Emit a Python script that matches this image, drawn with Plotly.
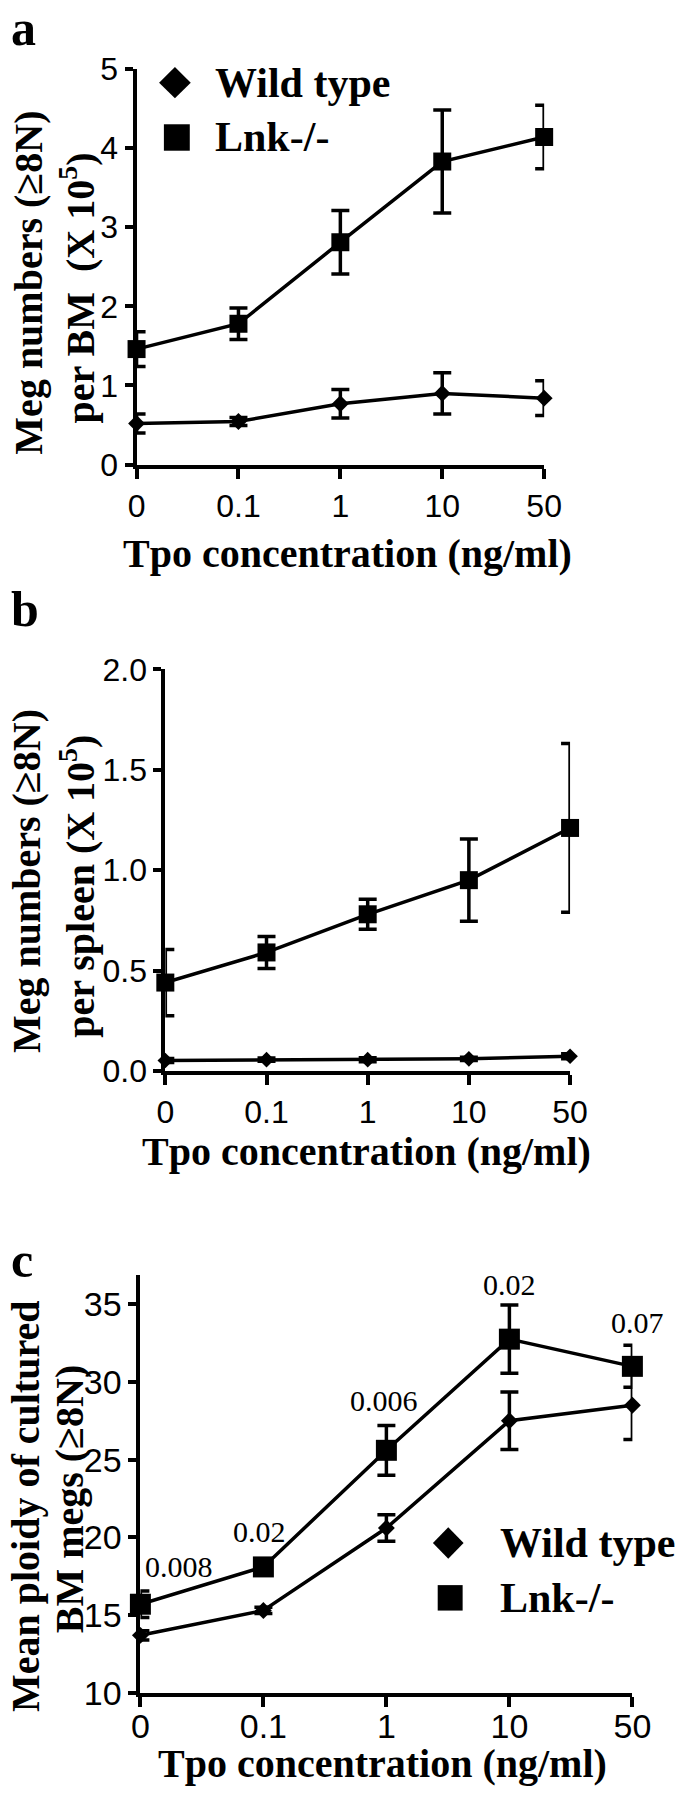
import plotly.graph_objects as go

# ---------------- data ----------------
categories = ["0", "0.1", "1", "10", "50"]

a_wt = [0.52, 0.545, 0.77, 0.90, 0.84]
a_wt_err = [0.12, 0.05, 0.18, 0.26, 0.22]
a_lnk = [1.46, 1.78, 2.81, 3.83, 4.14]
a_lnk_err = [0.22, 0.20, 0.40, 0.65, 0.40]

b_wt = [0.052, 0.056, 0.056, 0.060, 0.073]
b_wt_err = [0.010, 0.008, 0.010, 0.008, 0.012]
b_lnk = [0.44, 0.59, 0.78, 0.95, 1.21]
b_lnk_err = [0.165, 0.08, 0.075, 0.205, 0.42]

c_wt = [13.7, 15.3, 20.6, 27.5, 28.5]
c_wt_err = [0.3, 0.2, 0.85, 1.85, 2.2]
c_lnk = [15.7, 18.1, 25.6, 32.75, 31.0]
c_lnk_err = [0.85, 0.3, 1.6, 2.2, 1.35]

p_values = ["0.008", "0.02", "0.006", "0.02", "0.07"]

# ---------------- layout helpers ----------------
W, H = 684, 1800
SERIF = "Liberation Serif, Times New Roman, serif"
SANS = "Liberation Sans, Arial, sans-serif"


def px(x):
    return x / W


def py(y):
    return 1 - y / H


xs = list(range(len(categories)))

fig = go.Figure()

panels = [
    dict(s="", wt=a_wt, wte=a_wt_err, lnk=a_lnk, lnke=a_lnk_err,
         xd=(133, 558), yd=(52, 456), yr=[0, 5], tv=[0, 1, 2, 3, 4, 5], tf="d",
         fs=32, dsz=13, ssz=18, so=0),
    dict(s="2", wt=b_wt, wte=b_wt_err, lnk=b_lnk, lnke=b_lnk_err,
         xd=(163, 585), yd=(665, 1075), yr=[0, 2], tv=[0, 0.5, 1.0, 1.5, 2.0], tf=".1f",
         fs=32, dsz=12, ssz=18, so=0),
    dict(s="3", wt=c_wt, wte=c_wt_err, lnk=c_lnk, lnke=c_lnk_err,
         xd=(137, 650), yd=(1283, 1710), yr=[10, 36.9], tv=[10, 15, 20, 25, 30, 35], tf="d",
         fs=34, dsz=13, ssz=21, so=-10),
]

for p in panels:
    xa = "x" + p["s"]
    ya = "y" + p["s"]
    for vals, errs, sym, size in ((p["wt"], p["wte"], "diamond", p["dsz"]),
                                   (p["lnk"], p["lnke"], "square", p["ssz"])):
        fig.add_trace(go.Scatter(
            x=xs, y=vals, xaxis=xa, yaxis=ya, mode="lines+markers",
            line=dict(color="black", width=3.5),
            marker=dict(symbol=sym, size=size, color="black", line=dict(width=0)),
            error_y=dict(type="data", array=errs, visible=True, thickness=3.5, width=9, color="black"),
            cliponaxis=False, showlegend=False,
        ))
    axis_common = dict(showline=True, linecolor="black", linewidth=4, showgrid=False,
                       zeroline=False, ticks="outside", tickcolor="black", tickwidth=3.5)
    xkey = "xaxis" + p["s"]
    ykey = "yaxis" + p["s"]
    fig.update_layout(**{
        xkey: dict(domain=[px(p["xd"][0]), px(p["xd"][1])], range=[0, 4], anchor=ya,
                   tickvals=xs, ticktext=categories, ticklen=10, ticklabelstandoff=p["so"],
                   tickfont=dict(family=SANS, size=p["fs"], color="black"), **axis_common),
        ykey: dict(domain=[py(p["yd"][1]), py(p["yd"][0])], range=p["yr"], anchor=xa,
                   tickvals=p["tv"], tickformat=p["tf"], ticklen=8,
                   tickfont=dict(family=SANS, size=p["fs"], color="black"), **axis_common),
    })

annotations = []
shapes = []


def text(x, y, t, size, xanchor="center", yanchor="middle", angle=0, bold=True, family=SERIF):
    annotations.append(dict(
        x=px(x), y=py(y), xref="paper", yref="paper", text=("<b>%s</b>" % t) if bold else t,
        showarrow=False, xanchor=xanchor, yanchor=yanchor, textangle=angle,
        font=dict(family=family, size=size, color="black")))


# panel letters
text(0, 10, "a", 50, xanchor="left")
text(0, 603, "b", 50, xanchor="left")
text(0, 1268, "c", 50, xanchor="left")

# x titles
for cx, cy in ((353, 547), (373, 1157), (389, 1782)):
    text(cx, cy, "Tpo concentration (ng/ml)", 40)

# y titles (two lines each)
text(20, 270, "Meg numbers (≥8N)", 40, angle=-90)
text(71, 276, "per BM  (X 10<sup>5</sup>)", 40, angle=-90)
text(19, 881, "Meg numbers (≥8N)", 40, angle=-90)
text(72, 887, "per spleen (X 10<sup>5</sup>)", 40, angle=-90)
text(18, 1519, "Mean ploidy of cultured", 40, angle=-90)
text(64, 1512, "BM megs (≥8N)", 40, angle=-90)


# legends (manual, large symbols)
def diamond(cx, cy, w, h):
    return dict(type="path", xref="paper", yref="paper", fillcolor="black", line=dict(width=0),
                path="M %f,%f L %f,%f L %f,%f L %f,%f Z" % (
                    px(cx - w / 2), py(cy), px(cx), py(cy - h / 2),
                    px(cx + w / 2), py(cy), px(cx), py(cy + h / 2)))


def square(cx, cy, s):
    return dict(type="rect", xref="paper", yref="paper", fillcolor="black", line=dict(width=0),
                x0=px(cx - s / 2), x1=px(cx + s / 2), y0=py(cy + s / 2), y1=py(cy - s / 2))


shapes += [diamond(173, 66, 33, 32), square(175, 122, 27),
           diamond(458, 1557, 32, 32), square(460, 1613, 26)]
text(213, 66, "Wild type", 42, xanchor="left")
text(213, 122, "Lnk-/-", 42, xanchor="left")
text(510, 1557, "Wild type", 42, xanchor="left")
text(510, 1613, "Lnk-/-", 42, xanchor="left")

# p-value labels above the Lnk-/- error bars in panel c
p_dx = [39, -4, -2, 0, 5]
p_dy = [25, 31, 25, 20, 23]
for i, lab in enumerate(p_values):
    annotations.append(dict(
        x=xs[i], y=c_lnk[i] + c_lnk_err[i], xref="x3", yref="y3", text=lab, showarrow=False,
        xanchor="center", yanchor="middle", xshift=p_dx[i], yshift=p_dy[i],
        font=dict(family=SERIF, size=30, color="black")))

fig.update_layout(
    width=W, height=H, autosize=False,
    margin=dict(l=0, r=0, t=0, b=0, pad=0),
    paper_bgcolor="white", plot_bgcolor="white",
    annotations=annotations, shapes=shapes,
)

fig.write_html("out.html", config={"displayModeBar": False},
               post_script="document.body.style.margin='0';document.body.style.overflow='hidden';")
